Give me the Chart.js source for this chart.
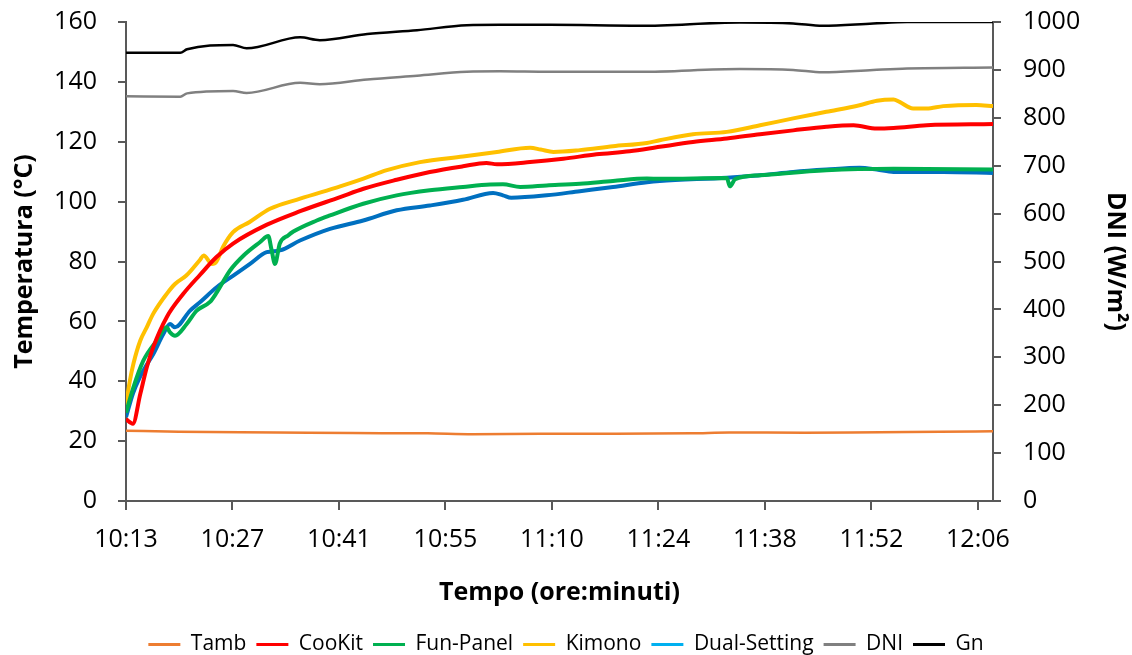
<!DOCTYPE html>
<html>
<head>
<meta charset="utf-8">
<script src="https://cdn.jsdelivr.net/npm/chart.js@4.4.0/dist/chart.umd.min.js"></script>
<style>
  html, body { margin: 0; padding: 0; background: #fff; }
  #wrap { width: 1132px; height: 655px; }
</style>
</head>
<body>
<div id="wrap"><canvas id="grafico" width="1132" height="655"></canvas></div>
<script>
// minuti trascorsi dalle 10:13
const etichetteOre = ['10:13', '10:27', '10:41', '10:55', '11:10', '11:24', '11:38', '11:52', '12:06'];
const passoTick = 14.125;
const fineTempo = 115;

const tambMin = [0, 7, 20, 30, 40, 46, 55, 65, 75, 80, 90, 100, 108, 115];
const tambVal = [23.5, 23.1, 22.9, 22.7, 22.6, 22.3, 22.5, 22.5, 22.6, 22.9, 22.8, 23.0, 23.1, 23.3];

const cookitMin = [0, 0.9, 1.9, 2.75, 3.6, 5.4, 7.6, 9.8, 12.0, 14.2, 18.7, 23.1, 28.4, 31.5, 35.9, 40.3, 44.7, 47.8, 49.2, 53.6, 58.0, 62.4, 66.8, 70.8, 75.2, 79.7, 84.1, 88.5, 92.9, 96.5, 99.6, 101.8, 106.2, 115];
const cookitVal = [27.3, 25.8, 35.8, 44.6, 51.3, 61.4, 69.2, 75.5, 81.5, 86.0, 92.3, 96.8, 101.5, 104.3, 107.3, 109.9, 111.8, 112.9, 112.5, 113.2, 114.3, 115.8, 116.8, 118.3, 119.9, 121.1, 122.5, 123.8, 125.0, 125.5, 124.4, 124.6, 125.5, 125.9];

const funMin = [0, 0.97, 2.3, 4.07, 5.4, 5.84, 6.5, 8.05, 9.38, 11.14, 12.0, 13.8, 15.6, 17.8, 18.87, 19.3, 19.76, 20.4, 21.5, 22.2, 25.3, 27.06, 31.47, 35.9, 40.3, 44.7, 48.3, 50.0, 52.3, 55.8, 60.2, 64.6, 69.1, 70.8, 79.7, 80.1, 80.8, 84.1, 92.9, 101.8, 115];
const funVal = [29.5, 37.9, 46.9, 53.6, 58.0, 56.3, 55.2, 59.1, 63.6, 66.5, 69.5, 77.0, 82.0, 86.5, 88.5, 84.0, 79.2, 86.0, 88.7, 90.0, 93.7, 95.4, 99.3, 102.1, 103.8, 104.9, 105.7, 105.8, 104.9, 105.4, 106.0, 106.9, 107.7, 107.6, 107.9, 105.1, 107.5, 108.8, 110.5, 111.0, 110.7];

const kimonoMin = [0, 0.5, 1.0, 1.9, 2.75, 3.6, 5.4, 6.5, 8.0, 9.8, 10.3, 11.4, 12.0, 12.9, 14.2, 16.4, 19.1, 23.1, 28.4, 31.5, 34.6, 39.0, 44.7, 49.2, 53.6, 55.0, 56.7, 60.2, 64.6, 69.1, 70.8, 75.2, 79.7, 84.1, 88.5, 92.9, 97.3, 99.6, 101.8, 102.6, 104.4, 106.2, 108.4, 112.8, 115];
const kimonoVal = [32, 40, 46, 53.6, 58, 62.5, 69.2, 72.5, 75.3, 80.5, 82, 79.2, 80, 85, 89.8, 93.2, 97.6, 101, 105.1, 107.7, 110.5, 113.2, 115.1, 116.6, 118, 117.4, 116.6, 117.2, 118.5, 119.6, 120.5, 122.5, 123.3, 125.5, 127.8, 130, 132.2, 133.7, 134.1, 133.3, 131.1, 131.1, 131.9, 132.3, 131.9];

const dualMin = [0, 0.93, 1.86, 2.75, 3.62, 4.95, 5.84, 6.5, 8.5, 9.81, 12.03, 14.23, 16.45, 18.66, 20.42, 23.08, 27.06, 31.47, 35.9, 40.3, 44.7, 48.7, 50.0, 51.1, 55.8, 60.2, 64.6, 69.1, 70.8, 79.7, 84.1, 88.5, 92.9, 97.3, 99.6, 101.8, 108.4, 115];
const dualVal = [28, 36, 41.5, 45.5, 49.1, 55.8, 59.1, 58, 63.6, 66.4, 71.4, 75.3, 79.2, 83.1, 83.7, 87, 90.9, 93.7, 97.1, 98.7, 100.6, 102.9, 102.1, 101.3, 102.1, 103.5, 104.9, 106.5, 106.9, 108, 108.8, 109.9, 110.7, 111.3, 110.7, 109.9, 109.9, 109.6];

// radiazione (asse destro)
const radMin = [0, 7.2, 8.1, 14.2, 16.0, 23.1, 25.7, 32.0, 38.6, 45.2, 49.6, 56.2, 68.2, 81.4, 88.5, 92.4, 99.1, 103.6, 115];
const dniVal = [845, 844, 851, 856, 852, 873, 870, 880, 888, 896, 897, 896, 896, 902, 900, 895, 900, 903, 905];
const gnVal = [936, 936, 943, 952, 945, 968, 962, 975, 983, 993, 994, 994, 992, 999, 997, 992, 997, 1000, 1000];

const coloriLegenda = ['#ED7D31', '#FF0000', '#00B050', '#FFC000', '#00B0F0', '#808080', '#000000'];

Chart.defaults.font.family = "'Open Sans', 'Noto Sans', sans-serif";
Chart.defaults.color = '#000';

function punti(min, val) {
    return min.map((m, i) => ({ x: m, y: val[i] }));
}

function serie(label, min, val, colore, spessore, asse) {
    return {
        label: label,
        data: punti(min, val),
        borderColor: colore,
        backgroundColor: colore,
        borderWidth: spessore,
        pointRadius: 0,
        fill: false,
        cubicInterpolationMode: 'monotone',
        yAxisID: asse
    };
}

// larghezza fissa degli assi verticali, senza margini extra sopra/sotto
function larghezzaFissa(w) {
    return s => { s.width = w; s.paddingTop = 0; s.paddingBottom = 0; };
}

const coloreAssi = '#595959';

var ctx = document.getElementById('grafico').getContext('2d');
new Chart(ctx, {
    type: 'line',
    data: {
        datasets: [
            serie('Tamb', tambMin, tambVal, '#ED7D31', 2.5, 'y'),
            serie('CooKit', cookitMin, cookitVal, '#FF0000', 4, 'y'),
            serie('Fun-Panel', funMin, funVal, '#00B050', 4, 'y'),
            serie('Kimono', kimonoMin, kimonoVal, '#FFC000', 4, 'y'),
            serie('Dual-Setting', dualMin, dualVal, '#0070C0', 4, 'y'),
            serie('DNI', radMin, dniVal, '#808080', 2.5, 'y1'),
            serie('Gn', radMin, gnVal, '#000000', 2.5, 'y1')
        ]
    },
    options: {
        responsive: false,
        animation: false,
        devicePixelRatio: 1,
        layout: { padding: { top: 22, bottom: -10, left: 0, right: 0 } },
        plugins: {
            tooltip: { enabled: false },
            legend: {
                position: 'bottom',
                labels: {
                    boxWidth: 32,
                    boxHeight: 3,
                    padding: 10,
                    font: { size: 21 },
                    color: '#000',
                    generateLabels: chart => chart.data.datasets.map((ds, i) => ({
                        text: ds.label,
                        fillStyle: coloriLegenda[i],
                        strokeStyle: coloriLegenda[i],
                        lineWidth: 0,
                        hidden: false,
                        datasetIndex: i
                    }))
                }
            }
        },
        scales: {
            x: {
                type: 'linear',
                min: 0,
                max: fineTempo,
                afterBuildTicks: s => { s.ticks = etichetteOre.map((_, i) => ({ value: i * passoTick })); },
                afterFit: s => { s.height = 123; },
                ticks: {
                    callback: (v, i) => etichetteOre[i],
                    font: { size: 25 },
                    padding: 15,
                    maxRotation: 0,
                    autoSkip: false
                },
                grid: { drawOnChartArea: false, tickLength: 9, color: coloreAssi, lineWidth: 2 },
                border: { color: coloreAssi, width: 2 },
                title: {
                    display: true,
                    text: 'Tempo (ore:minuti)',
                    font: { size: 25, weight: 'bold' },
                    padding: { top: 0, bottom: 16 }
                }
            },
            y: {
                position: 'left',
                min: 0,
                max: 160,
                afterFit: larghezzaFissa(126),
                ticks: { stepSize: 20, font: { size: 25 }, padding: 21 },
                grid: { drawOnChartArea: false, tickLength: 8, color: coloreAssi, lineWidth: 2 },
                border: { color: coloreAssi, width: 2 },
                title: {
                    display: true,
                    text: 'Temperatura (°C)',
                    font: { size: 25, weight: 'bold' },
                    padding: { top: 10, bottom: 0 }
                }
            },
            y1: {
                position: 'right',
                min: 0,
                max: 1000,
                afterFit: larghezzaFissa(139),
                ticks: { stepSize: 100, font: { size: 25 }, padding: 22, callback: v => String(v) },
                grid: { drawOnChartArea: false, tickLength: 8, color: coloreAssi, lineWidth: 2 },
                border: { color: coloreAssi, width: 2 },
                title: {
                    display: true,
                    text: 'DNI (W/m²)',
                    font: { size: 25, weight: 'bold' },
                    padding: { top: 2, bottom: 0 }
                }
            }
        }
    }
});
</script>
</body>
</html>
